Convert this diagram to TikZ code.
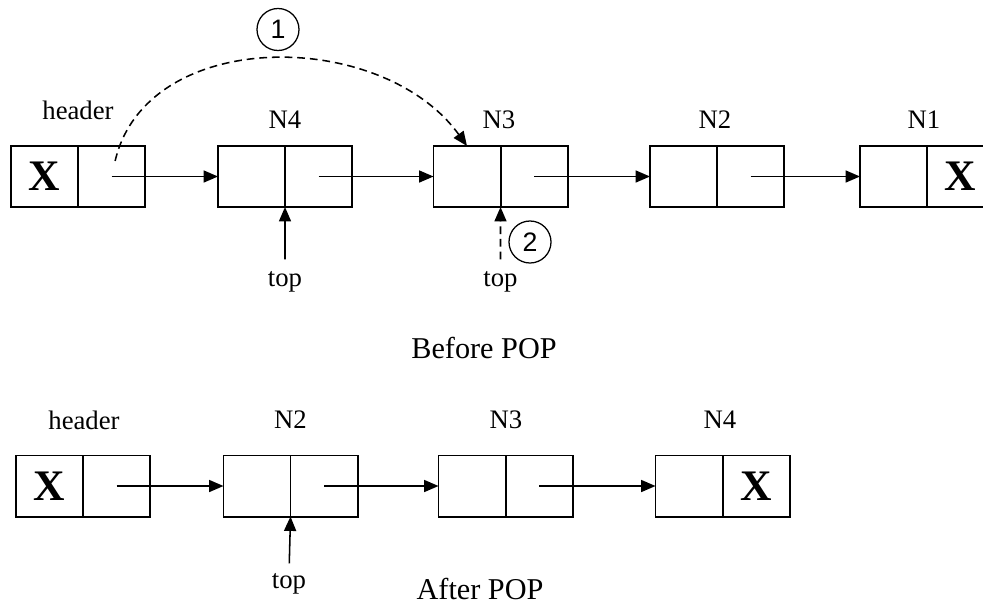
\documentclass[tikz,border=0pt]{standalone}
\usepackage{fontspec}
\setmainfont{Liberation Serif}
\newfontfamily\circfont{Liberation Sans}
\usetikzlibrary{arrows.meta, positioning}

\begin{document}
\begin{tikzpicture}[
  x=0.025cm, y=-0.025cm,
  cellbox/.style={rectangle, draw, line width=1.4pt, outer sep=0pt, inner sep=0pt,
                  minimum width=1.675cm, minimum height=1.525cm,
                  font=\fontsize{31}{32}\selectfont\bfseries},
  namelbl/.style={font=\fontsize{19}{22}\selectfont, inner sep=0pt},
  captlbl/.style={font=\fontsize{21.5}{24}\selectfont, inner sep=0pt},
  steplbl/.style={circle, draw, line width=0.9pt, minimum size=1.05cm, inner sep=0pt,
                  font=\circfont\fontsize{19}{22}\selectfont},
  arr/.style={-{Triangle[length=0.36cm, width=0.3cm]}, line width=1.1pt},
  darr/.style={-{Triangle[length=0.36cm, width=0.3cm]}, line width=1.1pt,
               dash pattern=on 5.5pt off 3.5pt}
]
\useasboundingbox (0,0) rectangle (983,606);

% Before POP: list cells
\node[cellbox] (bhd) at (44.5,176.5) {X};
\node[cellbox, right=0pt of bhd] (bhdp) {};
\node[cellbox] (bn4) at (251.5,176.5) {};
\node[cellbox, right=0pt of bn4] (bn4p) {};
\node[cellbox] (bn3) at (467,176.5) {};
\node[cellbox, right=0pt of bn3] (bn3p) {};
\node[cellbox] (bn2) at (683.5,176.5) {};
\node[cellbox, right=0pt of bn2] (bn2p) {};
\node[cellbox] (bn1) at (893.5,176.5) {};
\node[cellbox, right=0pt of bn1] (bn1p) {X};

% Before POP: names above cells
\node[namelbl] (lbhd) at (78,110)    {header};
\node[namelbl] (lbn4) at (285,120)   {N4};
\node[namelbl] (lbn3) at (499,120)   {N3};
\node[namelbl] (lbn2) at (715,120)   {N2};
\node[namelbl] (lbn1) at (924,120)   {N1};

% Before POP: top pointers and steps
\node[namelbl] (tpb4) at (285,282)   {top};
\node[namelbl] (tpb3) at (500.5,282) {top};
\node[steplbl] (stp1) at (278,29.5)  {1};
\node[steplbl] (stp2) at (530,242)   {2};
\node[captlbl] (capb) at (484,348)   {Before POP};

% Before POP links
\draw[arr] (bhdp.center) -- (bn4.west);
\draw[arr] (bn4p.center) -- (bn3.west);
\draw[arr] (bn3p.center) -- (bn2.west);
\draw[arr] (bn2p.center) -- (bn1.west);
\draw[arr, shorten <=0.3cm] (tpb4.north) -- (bn4.south east);
\draw[darr, shorten <=0.3cm] (tpb3.north) -- (bn3.south east);

% Step 1: header skips N4
\draw[darr, shorten <=0.4cm] (bhdp.center) .. controls +(35,-150) and +(-85,-118) .. (bn3.north);

% After POP: list cells
\node[cellbox] (ahd) at (49.5,486) {X};
\node[cellbox, right=0pt of ahd] (ahdp) {};
\node[cellbox] (an2) at (257,486) {};
\node[cellbox, right=0pt of an2] (an2p) {};
\node[cellbox] (an3) at (472,486) {};
\node[cellbox, right=0pt of an3] (an3p) {};
\node[cellbox] (an4) at (689,486) {};
\node[cellbox, right=0pt of an4] (an4p) {X};

% After POP: names above cells
\node[namelbl] (lahd) at (84,420)  {header};
\node[namelbl] (lan2) at (290.5,420) {N2};
\node[namelbl] (lan3) at (506,420) {N3};
\node[namelbl] (lan4) at (720,420) {N4};
\node[namelbl] (tpa2) at (289,584) {top};
\node[captlbl] (capa) at (480,589) {After POP};

% After POP links
\draw[arr] (ahdp.center) -- (an2.west);
\draw[arr] (an2p.center) -- (an3.west);
\draw[arr] (an3p.center) -- (an4.west);
\draw[arr, shorten <=0.25cm] (tpa2.north) -- (an2.south east);

\end{tikzpicture}
\end{document}
